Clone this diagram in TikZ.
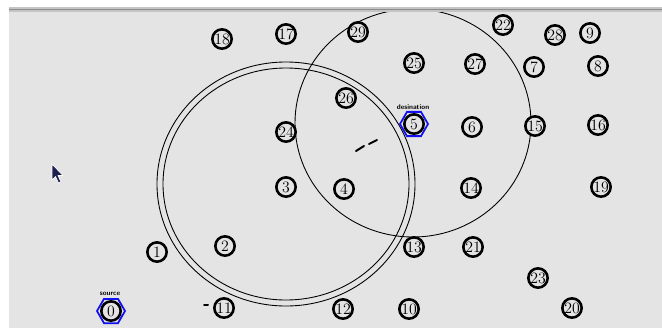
\documentclass[tikz,border=0pt]{standalone}
\usepackage{xcolor}
\usepackage{tikz}
\usetikzlibrary{shapes.geometric}
\definecolor{bgPanel}{HTML}{E4E4E4}
\definecolor{barGray}{HTML}{C4C4C4}
\definecolor{barLine}{HTML}{8C8C8C}
\definecolor{hexBlue}{HTML}{1010F0}
\definecolor{cursorNavy}{HTML}{1C2050}

\begin{document}
\begin{tikzpicture}[
  x=0.03cm, y=-0.03cm,
  mote/.style={circle, draw=black, fill=bgPanel, line width=2.2pt, minimum size=0.58cm, inner sep=0pt, font=\fontsize{13.5}{13.5}\selectfont},
  hexring/.style={regular polygon, regular polygon sides=6, draw=hexBlue, line width=1.5pt, minimum size=0.84cm, inner sep=0pt},
  tag/.style={font=\fontsize{6}{6}\sffamily\bfseries, inner sep=0pt},
  radioring/.style={line width=0.75pt, draw=black},
  stub/.style={line width=1.7pt, line cap=round}
]
\useasboundingbox (0,0) rectangle (662,329);

% ---------- WINDOW ----------
\fill[white] (0,0) rectangle (662,329);
\fill[bgPanel] (9,12) rectangle (662,328);
\fill[barGray] (9,7) rectangle (662,12);
\draw[barLine, line width=1pt] (9,9.5) -- (662,9.5);

% ---------- RANGES ----------
\begin{scope}
\clip (9,12) rectangle (662,328);
\draw[radioring] (286,184) ellipse [x radius=129, y radius=122];
\draw[radioring] (286,184) ellipse [x radius=123, y radius=116];
\draw[radioring] (413,123) ellipse [x radius=118, y radius=114];
\end{scope}

% ---------- SOURCE / DESTINATION ----------
\node[hexring] (h0) at (111,311) {};
\node[mote] (n0) at (111,311) {0};
\node[tag] (src) at (110,294) {source};
\node[hexring] (h5) at (414,124) {};
\node[mote] (n5) at (414,124) {5};
\node[tag] (dst) at (413,107) {desination};

% ---------- NODES ----------
\node[mote] (n18) at (222,39) {18};
\node[mote] (n17) at (286,34) {17};
\node[mote] (n29) at (358,32) {29};
\node[mote] (n22) at (503,25) {22};
\node[mote] (n28) at (555,35) {28};
\node[mote] (n9) at (590,33) {9};
\node[mote] (n25) at (414,63) {25};
\node[mote] (n27) at (475,64) {27};
\node[mote] (n7) at (534,67) {7};
\node[mote] (n8) at (598,66) {8};
\node[mote] (n26) at (346,98) {26};
\node[mote] (n24) at (286,132) {24};
\node[mote] (n6) at (472,127) {6};
\node[mote] (n15) at (535,126) {15};
\node[mote] (n16) at (598,125) {16};
\node[mote] (n3) at (286,187) {3};
\node[mote] (n4) at (344,189) {4};
\node[mote] (n14) at (471,188) {14};
\node[mote] (n19) at (601,187) {19};
\node[mote] (n1) at (157,252) {1};
\node[mote] (n2) at (225,246) {2};
\node[mote] (n13) at (414,247) {13};
\node[mote] (n21) at (473,247) {21};
\node[mote] (n23) at (538,278) {23};
\node[mote] (n11) at (224,308) {11};
\node[mote] (n12) at (343,309) {12};
\node[mote] (n10) at (409,309) {10};
\node[mote] (n20) at (572,308) {20};

% ---------- MARKS ----------
\draw[stub] (356,151) -- (364,146);
\draw[stub] (369,144) -- (377,140);
\draw[stub] (204,305) -- (208,305);

% mouse pointer
\draw[fill=cursorNavy, draw=white, line width=0.6pt, line join=round]
  (52,164) -- (52,180) -- (55.5,176.5) -- (58.5,183) -- (61,182) -- (58,175.5) -- (63,175.5) -- cycle;

\end{tikzpicture}
\end{document}
